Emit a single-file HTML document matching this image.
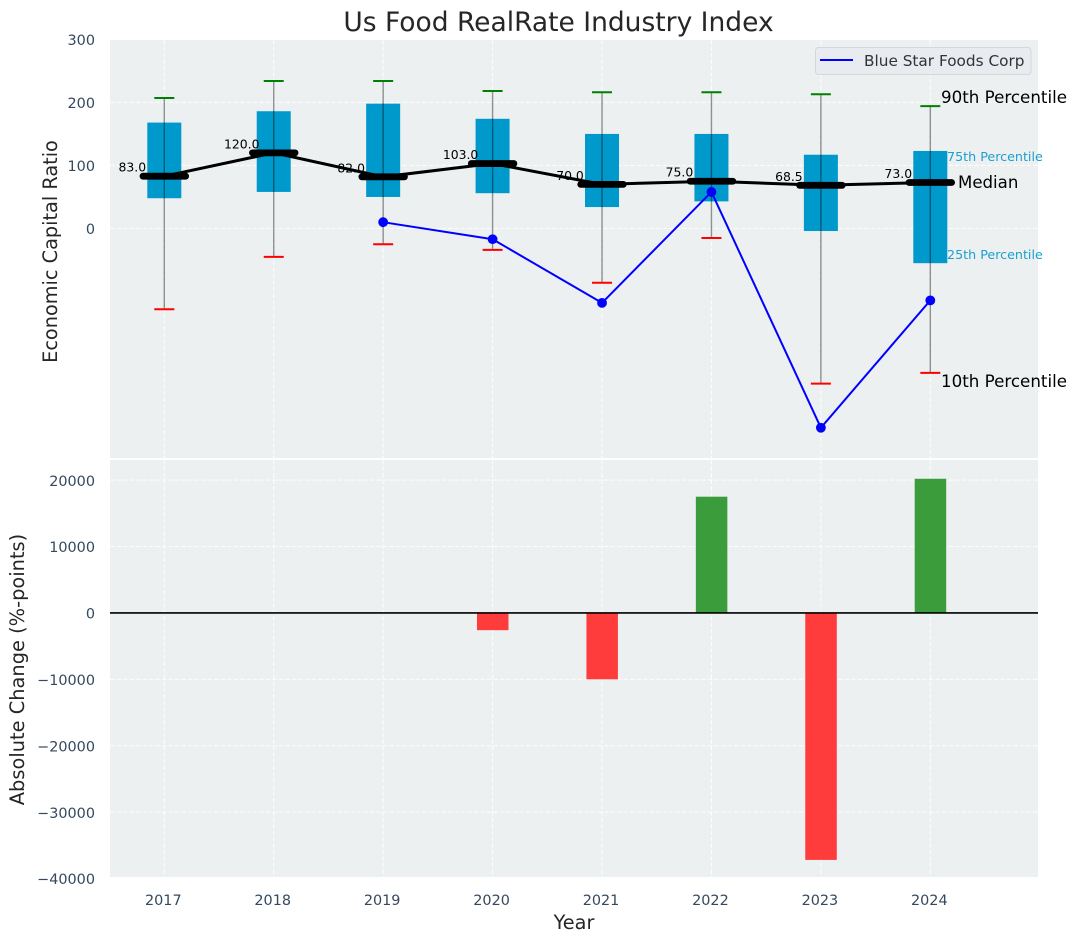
<!DOCTYPE html>
<html><head><meta charset="utf-8"><title>Us Food RealRate Industry Index</title>
<style>
html,body{margin:0;padding:0;background:#fff;}
svg{display:block;font-family:"DejaVu Sans","Liberation Sans",sans-serif;}
</style></head>
<body>
<svg id="chart" xmlns="http://www.w3.org/2000/svg" width="1076" height="942" viewBox="0 0 1076 942">
<rect x="110" y="40" width="928" height="418" fill="#ecf0f1"/>
<rect x="110" y="460" width="928" height="417" fill="#ecf0f1"/>
<g id="grid"></g>
<g id="bars"></g>
<g id="boxes"></g>
<g id="labels"></g>
<g id="lines"></g>
<g id="ticks"></g>
<text x="558.5" y="31" text-anchor="middle" font-size="26.5" fill="#262626">Us Food RealRate Industry Index</text>
<text transform="translate(57,251.5) rotate(-90)" text-anchor="middle" font-size="19.3" fill="#262626">Economic Capital Ratio</text>
<text transform="translate(24,669.5) rotate(-90)" text-anchor="middle" font-size="19.4" fill="#262626">Absolute Change (%-points)</text>
<text x="574" y="929" text-anchor="middle" font-size="19.3" fill="#262626">Year</text>
<g>
<rect x="815.5" y="47.5" width="215.5" height="27" rx="3" fill="#e8ebf0" stroke="#d5d7da" stroke-width="1"/>
<line x1="820" y1="60" x2="853" y2="60" stroke="#0000ff" stroke-width="2"/>
<text x="864" y="66" font-size="15.3" fill="#333333">Blue Star Foods Corp</text>
</g>
<text x="941" y="103" font-size="16.7" fill="#000">90th Percentile</text>
<text x="947" y="161" font-size="12.7" fill="#1c9fd0">75th Percentile</text>
<text x="958" y="188" font-size="16.6" fill="#000">Median</text>
<text x="947" y="259" font-size="12.7" fill="#1c9fd0">25th Percentile</text>
<text x="941" y="387" font-size="16.7" fill="#000">10th Percentile</text>
</svg>
<script>
const years = [2017, 2018, 2019, 2020, 2021, 2022, 2023, 2024];
const p90 = [207, 234, 234, 218, 216, 216, 213, 194];
const p75 = [168, 186, 198, 174, 150, 150, 117, 123];
const median = [83, 120, 82, 103, 70, 75, 68.5, 73];
const p25 = [48, 58, 50, 56, 34, 43, -4, -55];
const p10 = [-128, -45, -25, -34, -86, -15, -246, -229];
const companyYears = [2019, 2020, 2021, 2022, 2023, 2024];
const companyValues = [10, -17, -118, 58, -316, -114];
const changeYears = [2020, 2021, 2022, 2023, 2024];
const changeValues = [-2600, -10000, 17500, -37200, 20200];
const topTicks = [0, 100, 200, 300];
const bottomTicks = [-40000, -30000, -20000, -10000, 0, 10000, 20000];

const NS = 'http://www.w3.org/2000/svg';
function x(v){ return 164.3 + (v - 2017) * 109.43; }
function yTop(v){ return 228.5 - v * 0.6305; }
function yBot(v){ return 612.9 - v * 0.00664; }
function make(parent, tag, attrs, text){
  const el = document.createElementNS(NS, tag);
  for (const k in attrs) el.setAttribute(k, attrs[k]);
  if (text !== undefined) el.textContent = text;
  document.getElementById(parent).appendChild(el);
  return el;
}
function fmtTick(v){ return v < 0 ? '\u2212' + Math.abs(v) : String(v); }

years.forEach(function(yr){
  const a = make('grid', 'line', {x1:x(yr), x2:x(yr), y1:40, y2:458, stroke:'#fff', 'stroke-width':1.1, 'stroke-dasharray':'4.5 2', opacity:.85});
  
  
  const b = make('grid', 'line', {x1:x(yr), x2:x(yr), y1:460, y2:877, stroke:'#fff', 'stroke-width':1.1, 'stroke-dasharray':'4.5 2', opacity:.85});
  
  
  const t = make('ticks', 'text', {x:x(yr)-1, y:905, 'text-anchor':'middle', 'font-size':14.4, fill:'#34495e'}, yr);
  
  
});
topTicks.forEach(function(v){
  const g = make('grid', 'line', {x1:110, x2:1038, y1:yTop(v), y2:yTop(v), stroke:'#fff', 'stroke-width':1.1, 'stroke-dasharray':'4.5 2', opacity:.85});
  
  
  const t = make('ticks', 'text', {x:95, y:yTop(v)+5.7, 'text-anchor':'end', 'font-size':14.4, fill:'#34495e'}, fmtTick(v));
  
  
});
bottomTicks.forEach(function(v){
  const g = make('grid', 'line', {x1:110, x2:1038, y1:yBot(v), y2:yBot(v), stroke:'#fff', 'stroke-width':1.1, 'stroke-dasharray':'4.5 2', opacity:.85});
  
  
  const t = make('ticks', 'text', {x:95, y:yBot(v)+5.7, 'text-anchor':'end', 'font-size':14.4, fill:'#34495e'}, fmtTick(v));
  
  
});

changeYears.forEach(function(yr, i){
  const v = changeValues[i];
  const r = make('bars', 'rect', {x:x(yr)-15.6, width:31.5, y:Math.min(yBot(v), yBot(0)), height:Math.abs(yBot(v)-yBot(0)), fill:v >= 0 ? '#3b9c3c' : '#ff3c3c'});
  
  
});
const zero = make('bars', 'line', {x1:110, x2:1038, y1:yBot(0), y2:yBot(0), stroke:'#000', 'stroke-width':1.6});



years.forEach(function(yr, i){
  const cx = x(yr);
  const box = make('boxes', 'rect', {x:cx-17, width:34, y:yTop(p75[i]), height:yTop(p25[i])-yTop(p75[i]), fill:'#0099cc'});
  
  
  const w = make('boxes', 'line', {x1:cx, x2:cx, y1:yTop(p90[i]), y2:yTop(p10[i]), stroke:'#000', 'stroke-opacity':.42, 'stroke-width':1.4});
  
  
  const c1 = make('boxes', 'line', {x1:cx-10, x2:cx+10, y1:yTop(p90[i]), y2:yTop(p90[i]), stroke:'#008000', 'stroke-width':2});
  
  
  const c2 = make('boxes', 'line', {x1:cx-10, x2:cx+10, y1:yTop(p10[i]), y2:yTop(p10[i]), stroke:'#ff0000', 'stroke-width':2});
  
  
  const lab = make('labels', 'text', {x:cx-32, y:yTop(median[i])-4.5, 'text-anchor':'middle', 'font-size':12.4, fill:'#000'}, median[i].toFixed(1));
  
  
});

const medLine = make('lines', 'polyline', {points:years.map(function(yr,i){return x(yr)+','+yTop(median[i]);}).join(' '), fill:'none', stroke:'#000', 'stroke-width':3});


years.forEach(function(yr, i){
  const m = make('lines', 'line', {x1:x(yr)-21.3, x2:x(yr)+21.3, y1:yTop(median[i]), y2:yTop(median[i]), stroke:'#000', 'stroke-width':6.8, 'stroke-linecap':'round'});
  
  
});
const compLine = make('lines', 'polyline', {points:companyYears.map(function(yr,i){return x(yr)+','+yTop(companyValues[i]);}).join(' '), fill:'none', stroke:'#0000ff', 'stroke-width':2});


companyYears.forEach(function(yr, i){
  const d = make('lines', 'circle', {cx:x(yr), cy:yTop(companyValues[i]), r:4.9, fill:'#0000ff'});
  
  
});
</script>
</body></html>
